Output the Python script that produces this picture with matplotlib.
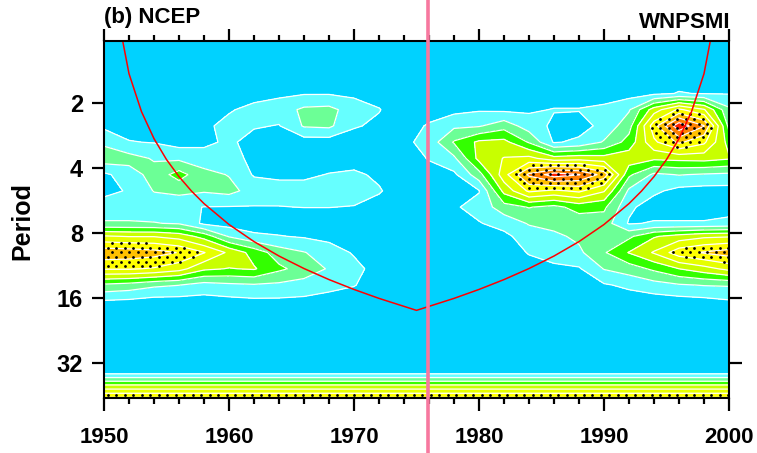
import numpy as np
import matplotlib.pyplot as plt

# wavelet power (in contour-level units) on a year x period grid
years = [1950, 1952, 1954, 1956, 1958, 1960, 1962, 1964, 1966, 1968, 1970, 1972, 1974,
         1976, 1978, 1980, 1982, 1984, 1986, 1988, 1990, 1992, 1994, 1996, 1998, 2000]

periods = [1.0, 1.414, 1.803, 2.144, 2.549, 3.031, 3.605, 4.287, 5.098, 6.063,
           7.210, 8.282, 9.849, 11.71, 13.93, 16.56, 21.11, 35.51, 40.79, 46.85]

power = [
    [0.2, 0.2, 0.2, 0.2, 0.2, 0.2, 0.2, 0.2, 0.2, 0.2, 0.2, 0.2, 0.2, 0.2, 0.2, 0.2, 0.2, 0.2, 0.2, 0.2, 0.2, 0.2, 0.2, 0.2, 0.2, 0.2],
    [0.3, 0.3, 0.3, 0.3, 0.3, 0.3, 0.3, 0.3, 0.3, 0.3, 0.3, 0.3, 0.3, 0.3, 0.3, 0.3, 0.3, 0.3, 0.3, 0.3, 0.3, 0.4, 0.5, 0.5, 0.5, 0.5],
    [0.3, 0.3, 0.3, 0.3, 0.4, 0.5, 0.6, 0.8, 0.92, 0.92, 0.8, 0.6, 0.4, 0.4, 0.5, 0.5, 0.5, 0.5, 0.5, 0.5, 0.6, 0.6, 0.8, 1.05, 0.95, 0.95],
    [0.3, 0.3, 0.3, 0.3, 0.4, 0.9, 1.3, 1.5, 2.2, 2.3, 1.5, 1.05, 0.4, 0.6, 0.7, 0.9, 0.8, 0.85, 1.05, 1.05, 1.2, 1.9, 4.5, 6.2, 5.1, 2.2],
    [0.8, 0.6, 0.5, 0.4, 0.8, 1.3, 1.1, 0.95, 2.1, 2.2, 1.1, 0.8, 0.6, 1.1, 1.8, 1.9, 2.6, 1.5, 0.8, 0.6, 1.3, 2.6, 6.6, 9.7, 8.05, 2.7],
    [1.8, 1.05, 0.95, 0.6, 0.75, 1.2, 0.6, 0.5, 0.5, 0.5, 0.5, 0.4, 0.75, 1.4, 3.1, 4.2, 4.3, 2.9, 0.9, 1.2, 2.1, 3.4, 5.8, 7.2, 6.2, 3.6],
    [2.6, 2.4, 1.9, 1.8, 1.5, 1.3, 0.8, 0.5, 0.5, 0.5, 0.5, 0.4, 0.6, 1.05, 1.8, 4.3, 5.05, 5.3, 4.4, 4.6, 4.4, 4.6, 4.2, 4.3, 4.4, 4.1],
    [0.8, 1.5, 2.4, 3.4, 2.3, 1.95, 0.9, 0.8, 0.8, 1.05, 1.2, 0.8, 0.4, 0.7, 0.8, 2.6, 5.6, 8.2, 9.5, 9.05, 7.6, 3.2, 1.8, 2.05, 1.9, 1.8],
    [0.7, 1.1, 2.05, 2.3, 2.1, 2.3, 1.6, 1.4, 1.4, 1.4, 1.5, 1.1, 0.4, 0.4, 0.6, 0.95, 4.3, 6.2, 5.8, 6.2, 5.1, 1.8, 1.2, 0.7, 0.6, 0.6],
    [1.5, 1.5, 1.4, 1.2, 0.98, 0.95, 0.95, 0.97, 1.02, 1.02, 0.95, 0.6, 0.4, 0.4, 0.9, 1.3, 2.6, 3.05, 2.7, 3.4, 3.2, 1.2, 0.5, 0.5, 0.5, 0.7],
    [2.1, 2.1, 2.05, 1.9, 0.8, 0.6, 0.5, 0.5, 0.4, 0.4, 0.4, 0.4, 0.4, 0.4, 0.5, 0.95, 1.3, 2.1, 2.3, 2.4, 2.5, 0.9, 1.1, 1.1, 1.1, 1.2],
    [5.1, 4.95, 4.95, 4.6, 3.6, 1.9, 1.2, 1.05, 0.9, 0.7, 0.5, 0.4, 0.4, 0.4, 0.4, 0.6, 0.8, 1.4, 1.8, 2.2, 2.6, 2.8, 3.9, 4.4, 4.8, 4.9],
    [7.7, 7.6, 7.4, 6.95, 6.05, 4.8, 3.6, 2.5, 2.05, 1.5, 0.9, 0.5, 0.4, 0.4, 0.4, 0.4, 0.6, 1.05, 1.4, 1.8, 2.9, 4.05, 5.1, 6.6, 7.1, 7.5],
    [6.1, 6.1, 5.9, 5.4, 4.2, 3.95, 4.1, 3.2, 2.6, 1.9, 1.3, 0.6, 0.4, 0.4, 0.4, 0.4, 0.5, 0.7, 0.8, 0.9, 2.05, 2.5, 3.2, 4.0, 4.6, 5.3],
    [2.8, 2.6, 2.2, 2.02, 1.6, 1.8, 1.9, 1.8, 1.6, 1.3, 1.05, 0.5, 0.4, 0.4, 0.4, 0.4, 0.4, 0.5, 0.6, 0.6, 0.9, 1.2, 1.6, 1.9, 2.05, 2.1],
    [0.9, 0.8, 0.6, 0.6, 0.6, 0.7, 0.8, 0.8, 0.75, 0.6, 0.5, 0.3, 0.3, 0.3, 0.3, 0.3, 0.3, 0.3, 0.3, 0.3, 0.5, 0.5, 0.5, 0.6, 0.7, 0.9],
    [0.3, 0.3, 0.3, 0.3, 0.3, 0.3, 0.3, 0.3, 0.3, 0.3, 0.3, 0.3, 0.3, 0.3, 0.3, 0.3, 0.3, 0.3, 0.3, 0.3, 0.3, 0.3, 0.3, 0.3, 0.3, 0.3],
    [0.7, 0.7, 0.7, 0.7, 0.7, 0.7, 0.7, 0.7, 0.7, 0.7, 0.7, 0.7, 0.7, 0.7, 0.7, 0.7, 0.7, 0.7, 0.7, 0.7, 0.7, 0.7, 0.7, 0.7, 0.7, 0.7],
    [4.2, 4.2, 4.2, 4.2, 4.2, 4.2, 4.2, 4.2, 4.2, 4.2, 4.2, 4.2, 4.2, 4.2, 4.2, 4.2, 4.2, 4.2, 4.2, 4.2, 4.2, 4.2, 4.2, 4.2, 4.2, 4.2],
    [7.3, 7.3, 7.3, 7.3, 7.3, 7.3, 7.3, 7.3, 7.3, 7.3, 7.3, 7.3, 7.3, 7.3, 7.3, 7.3, 7.3, 7.3, 7.3, 7.3, 7.3, 7.3, 7.3, 7.3, 7.3, 7.3],
]

# cone of influence
coi_years = [1951, 1952, 1953, 1954, 1955, 1956, 1957, 1958, 1960, 1962, 1964, 1966, 1968, 1970,
             1972, 1975, 1978, 1980, 1982, 1984, 1986, 1988, 1990, 1992, 1993, 1994, 1995,
             1996, 1997, 1998, 1999]
coi_periods = [0.73, 1.46, 2.19, 2.92, 3.65, 4.38, 5.11, 5.84, 7.30, 8.76, 10.22, 11.68, 13.14, 14.60,
               16.06, 18.25, 16.06, 14.60, 13.14, 11.68, 10.22, 8.76, 7.30, 5.84, 5.11, 4.38, 3.65,
               2.92, 2.19, 1.46, 0.73]

shift_year = 1975.9
levels = [1, 2, 3, 4, 5, 6, 7, 8, 9]
signif_level = 6
period_ticks = [2, 4, 8, 16, 32]

fill_colors = ['#00D2FF', '#66FFFF', '#6CFF96', '#33FF00', '#C8FF00',
               '#E6FF00', '#FFFF00', '#FFC000', '#FF8000', '#FF2000']

plt.rcParams['font.family'] = ['Liberation Sans', 'DejaVu Sans']
plt.rcParams['font.weight'] = 'bold'

fig = plt.figure(figsize=(7.57, 4.53), dpi=100)
ax = fig.add_axes([104 / 757, 55 / 453, 625 / 757, 357 / 453])

X, Y = np.meshgrid(years, np.log2(periods))
Z = np.array(power)

ax.contourf(X, Y, Z, levels=[-10] + levels + [100], colors=fill_colors)
ax.contour(X, Y, Z, levels=levels, colors='white', linewidths=0.9)

# stipple the significant area with a staggered dot lattice
sig = ax.contourf(X, Y, Z, levels=[signif_level, 100], colors='none')
sig_path = sig.get_paths()[0]
sig.remove()
dx = 8.5 / 12.5          # ~8.5 px between dots
dy = 4.6 / 65.0          # ~4.6 px between rows
pts = []
for j, yy in enumerate(np.arange(5.49, 0.0, -dy)):
    off = dx / 2 if j % 2 else 0.0
    for xx in np.arange(1950.3 + off, 2000, dx):
        pts.append((xx, yy))
pts = np.array(pts)
inside = sig_path.contains_points(pts)
ax.scatter(pts[inside, 0], pts[inside, 1], s=4, color='black', linewidths=0, zorder=3)

ax.plot(coi_years, np.log2(coi_periods), color='red', lw=1.1, zorder=4)
ax.axvline(shift_year, ymin=-0.2, ymax=1.2, clip_on=False, color='#F7789F', lw=2.6, zorder=10)

ax.set_xlim(1950, 2000)
ax.set_ylim(np.log2(46.5), np.log2(1.03))
ax.set_xticks([1950, 1960, 1970, 1980, 1990, 2000])
ax.set_xticks(range(1950, 2001, 2), minor=True)
ax.set_yticks(np.log2(period_ticks))
ax.set_yticklabels([str(p) for p in period_ticks])

for s in ax.spines.values():
    s.set_linewidth(1.5)
    s.set_zorder(5)
ax.tick_params(which='both', direction='out', top=True, right=True, width=1.6)
ax.tick_params(which='major', length=9)
ax.tick_params(which='minor', length=4.5)
ax.tick_params(axis='x', labelsize=16, pad=12)
ax.tick_params(axis='y', labelsize=17, pad=6)

fig.text(104 / 757, 1 - 23 / 453, '(b) NCEP', fontsize=16, ha='left', va='baseline')
fig.text(730 / 757, 1 - 28 / 453, 'WNPSMI', fontsize=16, ha='right', va='baseline')
fig.text(22 / 757, 1 - 221 / 453, 'Period', fontsize=18, rotation=90, ha='center', va='center')

fig.savefig('out.png', dpi=100)
